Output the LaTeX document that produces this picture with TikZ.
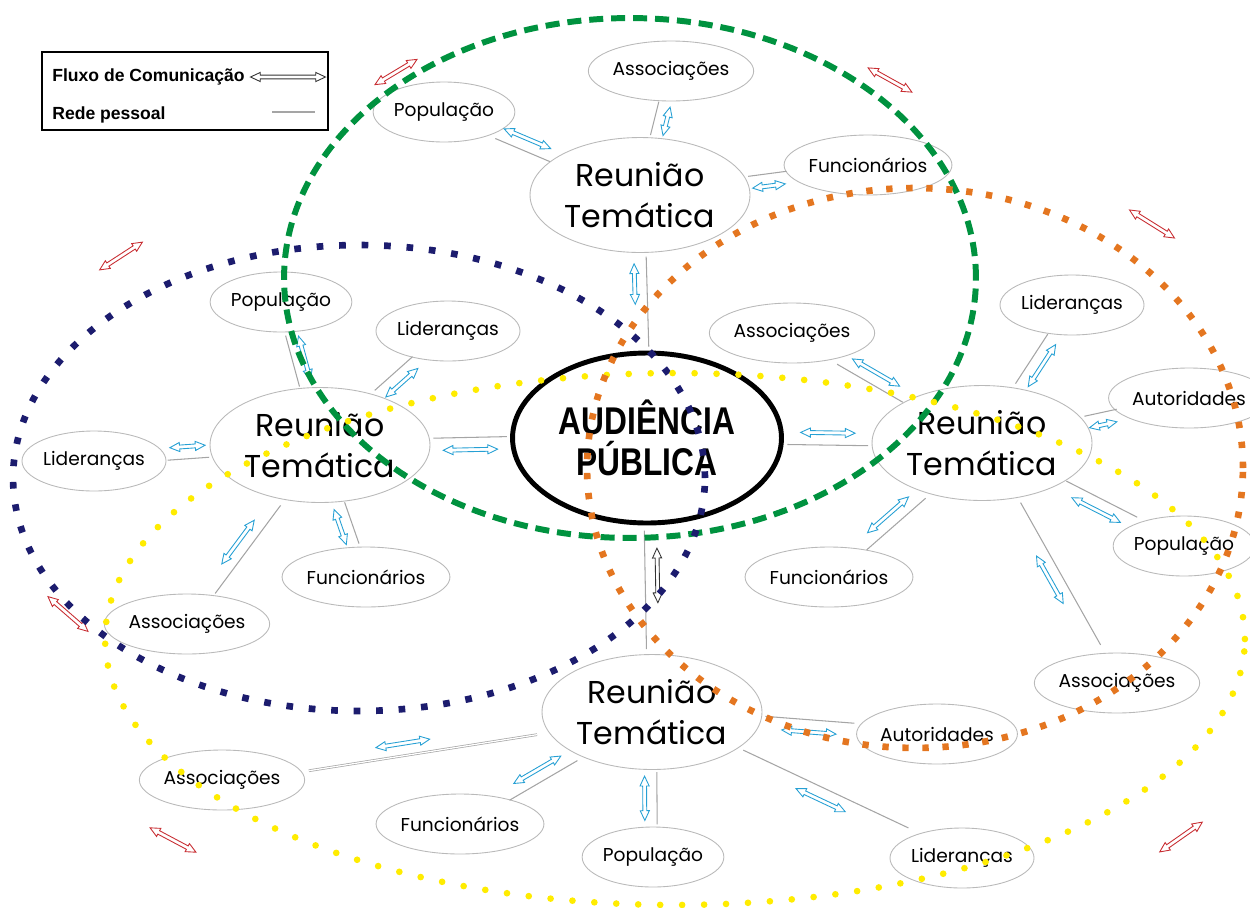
\documentclass[tikz,border=0pt]{standalone}
\usepackage{fontspec}
\setmainfont{Poppins}
\newfontfamily\legfont{Liberation Sans}
\newfontfamily\apfont[FakeStretch=0.82]{Liberation Sans}
\usetikzlibrary{calc,positioning,shapes.geometric,shapes.arrows}

\definecolor{verde}{RGB}{0,146,63}
\definecolor{marinho}{RGB}{28,28,110}
\definecolor{amarelo}{RGB}{255,236,0}
\definecolor{laranja}{RGB}{228,118,32}
\definecolor{azul}{RGB}{38,160,212}
\definecolor{vermelho}{RGB}{200,45,50}
\definecolor{cinza}{RGB}{165,165,165}
\definecolor{borda}{RGB}{185,185,185}

\tikzset{
  reuniao/.style={ellipse,draw=borda,line width=.5pt,inner sep=0pt,
    minimum width=4.4cm,minimum height=2.3cm,align=center,
    font=\fontsize{18}{23}\selectfont},
  grupo/.style={ellipse,draw=borda,line width=.5pt,inner sep=0pt,
    minimum width=2.55cm,minimum height=1.2cm,
    font=\fontsize{10.6}{13}\selectfont},
  audiencia/.style={ellipse,draw,line width=2.8pt,inner sep=0pt,
    minimum width=5.38cm,minimum height=3.4cm,align=center,
    font=\apfont\bfseries\fontsize{22}{23}\selectfont},
  legenda/.style={font=\legfont\bfseries\fontsize{10}{12}\selectfont,inner sep=0pt},
  rede/.style={draw=cinza,line width=.6pt},
  fluxo/.style={double arrow,draw=azul,fill=white,line width=.5pt,
    inner xsep=0pt,inner ysep=.85pt,minimum width=1pt,
    double arrow head extend=1.5pt,double arrow tip angle=50},
  tracejado/.style={line width=3.4pt,line cap=butt,dash pattern=on 8pt off 4.5pt},
  pontilhado/.style={line width=3.8pt,line cap=butt,dash pattern=on 3.8pt off 9pt},
}

% ligacao entre dois grupos: rede pessoal + fluxo
\newcommand\lpos{.5}
\newcommand\lratio{.85}
\newcommand\liga[3][fluxo]{%
  \path (#2) -- (#3) coordinate[pos=.04] (ls) coordinate[pos=.96] (le);
  \draw[rede] ($(ls)!2.5pt!90:(le)$) -- ($(le)!2.5pt!-90:(ls)$);
  \path let \p1=($(le)-(ls)$), \n1={veclen(\x1,\y1)}, \n2={atan2(\y1,\x1)} in
    node[#1,rotate=\n2,minimum height={min(31pt,\lratio*\n1)}]
      at ($($(ls)!\lpos!(le)$)!4.5pt!-90:(le)$) {};
}

\begin{document}
\begin{tikzpicture}[x=0.02cm,y=-0.02cm]
  \useasboundingbox (0,0) rectangle (1250,907);

  % legenda
  \draw[line width=1.6pt] (42,52) rectangle (328,130);
  \node[legenda,anchor=west] (lfluxo) at (52,77) {Fluxo de Comunicação};
  \node[legenda,anchor=west] (lrede) at (52,115) {Rede pessoal};
  \node[fluxo,draw=black!80,minimum height=1.5cm] (lseta) at (288,77) {};
  \coordinate (lr1) at (272,112);
  \coordinate (lr2) at (315,112);
  \draw[rede] (lr1) -- (lr2);

  % reunioes tematicas e audiencia
  \node[audiencia] (ap) at (647,438) {AUDIÊNCIA\\PÚBLICA};
  \node[reuniao] (rtN) at (640,195) {Reunião\\Temática};
  \node[reuniao] (rtW) at (320,445) {Reunião\\Temática};
  \node[reuniao] (rtE) at (982,443) {Reunião\\Temática};
  \node[reuniao] (rtS) at (652,712) {Reunião\\Temática};

  % grupos
  \node[grupo] (nAss) at (671,71) {Associações};
  \node[grupo] (nPop) at (444,112) {População};
  \node[grupo] (nFun) at (868,165) {Funcionários};
  \node[grupo] (wPop) at (281,302) {População};
  \node[grupo] (wLid) at (448,331) {Lideranças};
  \node[grupo] (wLidB) at (94,461) {Lideranças};
  \node[grupo] (wAss) at (187,624) {Associações};
  \node[grupo] (wFun) at (366,577) {Funcionários};
  \node[grupo] (eAss) at (792,333) {Associações};
  \node[grupo] (eLid) at (1072,305) {Lideranças};
  \node[grupo] (eAut) at (1189,398) {Autoridades};
  \node[grupo] (ePop) at (1184,546) {População};
  \node[grupo] (eFun) at (829,577) {Funcionários};
  \node[grupo] (eAssB) at (1117,683) {Associações};
  \node[grupo] (sAut) at (937,734) {Autoridades};
  \node[grupo] (sAss) at (222,780) {Associações};
  \node[grupo] (sFun) at (460,824) {Funcionários};
  \node[grupo] (sPop) at (653,857) {População};
  \node[grupo] (sLid) at (962,858) {Lideranças};

  % ligacoes
  \liga{rtN}{nAss} \liga{rtN}{nPop} \liga{rtN}{nFun}
  \liga{rtW}{wPop} \liga{rtW}{wLid} \liga{rtW}{wLidB}
  \liga{rtW}{wAss} \liga{rtW}{wFun}
  \liga{rtE}{eAss} \liga{rtE}{eLid} \liga{rtE}{eAut}
  \liga{rtE}{ePop} \liga{rtE}{eFun} \liga{rtE}{eAssB}
  \liga{rtS}{sAut} \liga{rtS}{sFun} \liga{rtS}{sPop} \liga{rtS}{sLid}
  \begin{scope}[rede/.append style={double=white,double distance=.7pt,line width=.4pt}]
    \renewcommand\lpos{.58}
    \liga{rtS}{sAss}
  \end{scope}
  \liga{rtW}{ap} \liga{rtE}{ap}
  {\renewcommand\lpos{.3}\renewcommand\lratio{.45}\liga{rtN}{ap}}
  {\renewcommand\lpos{.62}\liga[fluxo,draw=black!80]{rtS}{ap}}

  % setas soltas
  \node[fluxo,draw=vermelho,rotate=31,minimum height=.98cm] (s1) at (396,72) {};
  \node[fluxo,draw=vermelho,rotate=-29,minimum height=1cm] (s2) at (890,80) {};
  \node[fluxo,draw=vermelho,rotate=33,minimum height=1.02cm] (s3) at (121,256) {};
  \node[fluxo,draw=vermelho,rotate=-32,minimum height=1.06cm] (s4) at (1152,224) {};
  \node[fluxo,draw=vermelho,rotate=-41,minimum height=1.06cm] (s5) at (68,614) {};
  \node[fluxo,draw=vermelho,rotate=-28,minimum height=1.04cm] (s6) at (173,840) {};
  \node[fluxo,draw=vermelho,rotate=35,minimum height=1.04cm] (s7) at (1181,837) {};

  % conjuntos
  \draw[verde,tracejado] (630,278) ellipse [x radius=6.92cm,y radius=5.2cm];
  \draw[marinho,pontilhado] (359,478) ellipse [x radius=6.92cm,y radius=4.66cm];
  \draw[amarelo,pontilhado,line cap=round,dash pattern=on 0pt off 12.5pt]
    (675,639) ellipse [x radius=11.4cm,y radius=5.32cm];
  \draw[laranja,pontilhado,dash pattern=on 3.6pt off 7.8pt]
    (915,468) ellipse [x radius=6.56cm,y radius=5.6cm];
\end{tikzpicture}
\end{document}
